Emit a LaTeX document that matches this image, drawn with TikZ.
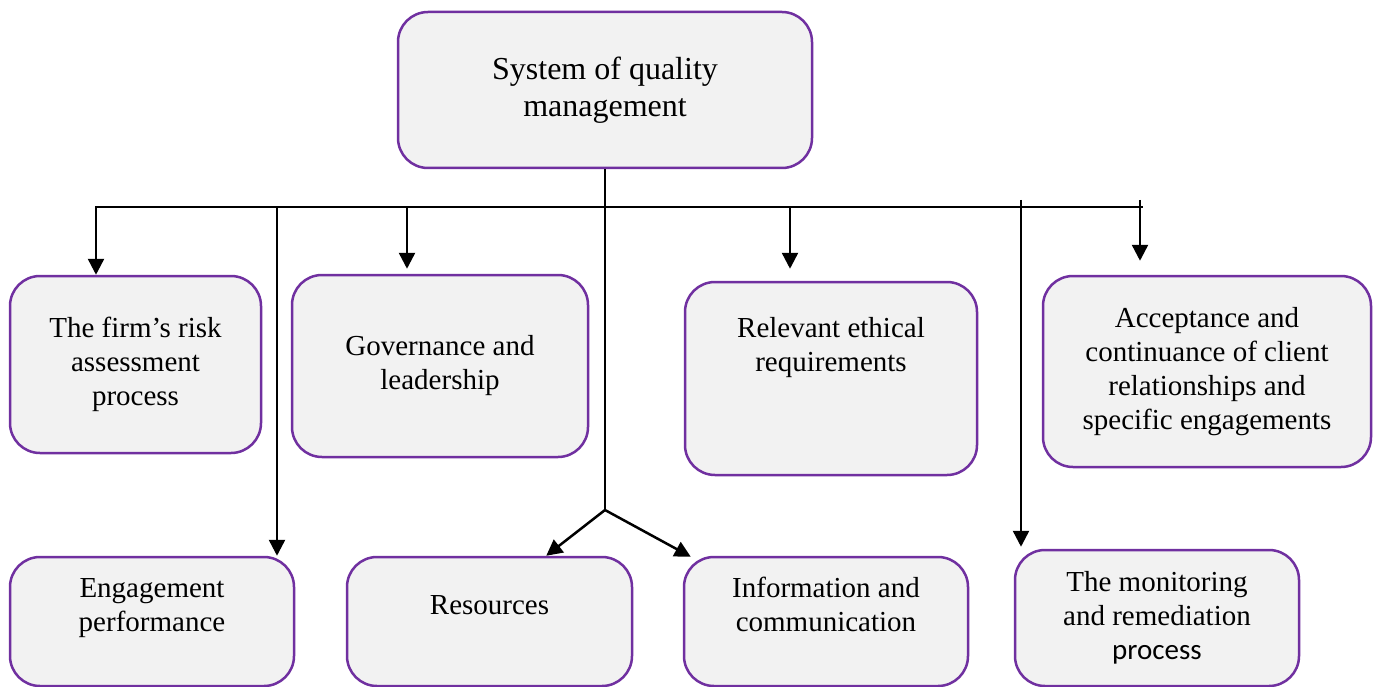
\documentclass[tikz,border=0pt]{standalone}
\usepackage{fontspec}
\setmainfont{Liberation Serif}
\newfontfamily\calib{Carlito}
\usetikzlibrary{arrows.meta,calc}
\definecolor{boxpurple}{HTML}{7030A0}
\definecolor{boxgray}{HTML}{F2F2F2}
\tikzset{
    box/.style={draw=boxpurple,fill=boxgray,line width=2.5pt,rounded corners=30pt,
      align=center,inner sep=0pt,font=\fontsize{29}{34}\selectfont},
    arr/.style={line width=2.5pt,-{Triangle[length=16pt,width=16pt]}},
    bus/.style={line width=1.3pt},
  }
\begin{document}
\begin{tikzpicture}[x=1pt,y=-1pt]
  \useasboundingbox (0,0) rectangle (1373,687);
  %TOP
  \node[box,minimum width=414pt,minimum height=156pt,font=\fontsize{32}{37}\selectfont] (sqm) at (605,90) {System of quality\\management};
  %FIRST ROW
  \node[box,minimum width=251pt,minimum height=177pt] (risk) at (135.5,364.5) {The firm’s risk\\assessment\\process};
  \node[box,minimum width=296pt,minimum height=182pt] (gov) at (440,366) {Governance and\\leadership};
  \node[box,minimum width=292pt,minimum height=193pt] (ethic) at (831,378.5) {Relevant ethical\\requirements\\~\\~};
  \node[box,minimum width=328pt,minimum height=191pt] (accept) at (1207,371.5) {Acceptance and\\continuance of client\\relationships and\\specific engagements};
  %SECOND ROW
  \node[box,minimum width=284pt,minimum height=129pt] (engage) at (152,621.5) {Engagement\\performance\\~};
  \node[box,minimum width=285pt,minimum height=129pt] (res) at (489.5,621.5) {Resources\\~};
  \node[box,minimum width=284pt,minimum height=129pt] (info) at (826,621.5) {Information and\\communication\\~};
  \node[box,minimum width=284pt,minimum height=136pt] (monit) at (1157,618) {The monitoring\\and remediation\\{\calib process}};
  %LINES
  \coordinate (busL) at (95,207);
  \coordinate (busR) at (1143,207);
  \coordinate (fork) at (605,510);
  \draw[bus] (sqm.south) -- (fork);
  \draw[bus] (busL) -- (busR);
  %ARROWS
  \coordinate (a1) at (96,207);
  \coordinate (a2) at (277,207);
  \coordinate (a3) at (407,207);
  \coordinate (a4) at (790,207);
  \coordinate (a5) at (1021,200);
  \coordinate (a6) at (1140,200);
  \draw[arr] (a1) -- (a1 |- risk.north);
  \draw[arr] (a2) -- (a2 |- engage.north);
  \draw[arr,shorten >=5pt] (a3) -- (a3 |- gov.north);
  \draw[arr,shorten >=12pt] (a4) -- (a4 |- ethic.north);
  \draw[arr,shorten >=2pt] (a5) -- (a5 |- monit.north);
  \draw[arr,shorten >=14pt] (a6) -- (a6 |- accept.north);
  \draw[arr] (fork) -- ($(res.north east)+(-87,0)$);
  \draw[arr] (fork) -- ($(info.north west)+(8,1)$);
\end{tikzpicture}
\end{document}
